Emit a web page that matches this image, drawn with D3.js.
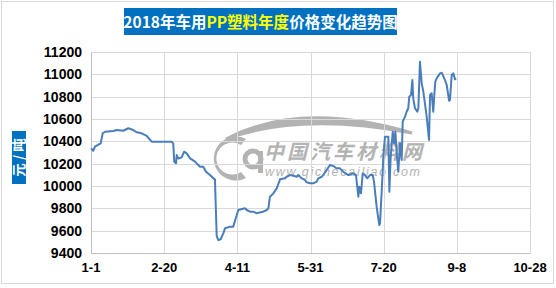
<!DOCTYPE html>
<html><head><meta charset="utf-8">
<script src="https://cdn.jsdelivr.net/npm/d3@7"></script>
<style>html,body{margin:0;padding:0;background:#fff;}svg{display:block;}</style>
</head><body>
<script>
// ---- data ----
const titleParts = [
  {text: "2018年车用", color: "#ffffff"},
  {text: "PP塑料年度", color: "#ffff00"},
  {text: "价格变化趋势图", color: "#ffffff"}
];
const yAxisTitle = "元 / 吨";
const tickDays = [0, 50, 100, 150, 200, 250, 300];
const tickLabels = ["1-1", "2-20", "4-11", "5-31", "7-20", "9-8", "10-28"];
const yTicks = [9400, 9600, 9800, 10000, 10200, 10400, 10600, 10800, 11000, 11200];
// days since 1-1
const days = [0, 1.6, 2.7, 6.6, 8, 9.6, 15.2, 17.6, 22, 25.5, 28.9, 31.2, 34.6, 38.1, 41.5, 42.6,
  55.1, 56.2, 56.9, 58.1, 58.6, 59.7, 62, 63.6, 65.4, 67.7, 71.1, 74.5, 76.7, 78.6, 81.3, 83.6, 84.7,
  85.9, 87, 88.6, 90.4, 91.6, 95, 97.2, 99.6, 100.7, 105.2, 106.4, 108.7, 110.9, 113.3, 114.4, 117.7,
  120.1, 121.2, 122.3, 123.5, 124.6, 126.9, 129.2, 132.6, 133.7, 136, 138.3, 140.6, 141.7, 142.8, 144,
  146.2, 147.4, 149.7, 151.9, 154.2, 155.3, 157.7, 161.1, 163.3, 165.6, 167.9, 170.1, 172.4, 175.8,
  179.3, 181.1, 182.7, 183.4, 184.5, 185.7, 187.2, 188.8, 190.7, 192.5, 193.4, 195.2, 197, 197.5,
  198.7, 199.8, 200.9, 203.2, 203.9, 204.8, 206.2, 207.1, 208, 208.9, 210, 211.2, 212.3, 213, 214.6,
  215.7, 216.8, 217.5, 218.7, 219.6, 220.2, 221.4, 223, 223.7, 224.8, 226, 227.1, 229.4, 231, 231.7,
  232.8, 233.9, 234.6, 235.3, 236.2, 238.5, 239.7, 241.9, 243.1, 244.7, 245.3, 246.5, 247.6, 248.8, 249.4];
const prices = [10337, 10316, 10352, 10382, 10472, 10486, 10492, 10501, 10495, 10517, 10501, 10481, 10472, 10448, 10397, 10397,
  10397, 10382, 10218, 10203, 10277, 10247, 10256, 10307, 10292, 10247, 10218, 10173, 10173, 10128, 10098, 10069, 10060,
  9552, 9516, 9523, 9576, 9621, 9636, 9636, 9740, 9785, 9800, 9785, 9770, 9770, 9755, 9761, 9770,
  9785, 9800, 9904, 9919, 9934, 9979, 10060, 10069, 10083, 10098, 10092, 10083, 10098, 10083, 10069,
  10054, 10033, 10024, 10024, 10039, 10069, 10083, 10143, 10188, 10179, 10158, 10158, 10128, 10098,
  10113, 10098, 9904, 9994, 9934, 10113, 10098, 10069, 10098, 10098, 10039, 9814, 9650, 9665,
  9964, 10262, 10442, 10442, 9949, 10262, 10486, 10382, 10486, 10292, 10128, 10382, 10233, 10576, 10621,
  10665, 10696, 10800, 10815, 10949, 10785, 10696, 10665, 10696, 11113, 10919, 10845, 10621, 10412, 10815,
  10830, 10665, 10815, 10934, 10964, 11009, 11015, 10949, 10904, 10764, 10770, 10994, 11009, 10955, 10964];

// ---- drawing ----
const W = 556, H = 288;
const svg = d3.select("body").append("svg").attr("width", W).attr("height", H);
const m = {left: 91, right: 530, top: 52, bottom: 253};
const x = d3.scaleLinear().domain([0, 300]).range([m.left, m.right]);
const y = d3.scaleLinear().domain([9400, 11200]).range([m.bottom, m.top]);

// outer border
svg.append("rect").attr("x", 1.5).attr("y", 1.5).attr("width", 552).attr("height", 282)
  .attr("fill", "#fff").attr("stroke", "#d9d9d9");

// watermark
const wm = svg.append("g").attr("fill", "#a6a6a6").attr("opacity", 0.85);
wm.append("path").attr("d", "M226,139 Q300,100 412,133 Q300,112 226,139 Z").attr("stroke", "#a6a6a6").attr("stroke-width", 3);
wm.append("path").attr("d", "M246,139 A22,22 0 1 0 246,178 L241,172 A16,16 0 1 1 241,145 Z");
wm.append("circle").attr("cx", 253).attr("cy", 159).attr("r", 8).attr("fill", "none").attr("stroke", "#a6a6a6").attr("stroke-width", 5);
wm.append("rect").attr("x", 258).attr("y", 151).attr("width", 5).attr("height", 22);
wm.append("text").attr("x", 264).attr("y", 159).attr("font-family", "'Noto Sans CJK SC'").attr("font-weight", "bold")
  .attr("font-style", "italic").attr("font-size", 20).attr("textLength", 158).text("中国汽车材料网");
wm.append("text").attr("x", 265).attr("y", 176).attr("font-family", "'Liberation Sans', Arial").attr("font-style", "italic")
  .attr("font-size", 12.5).attr("textLength", 155).text("www.qichecailiao.com");

// gridlines
svg.append("g").selectAll("line").data(yTicks).join("line")
  .attr("x1", m.left).attr("x2", m.right)
  .attr("y1", d => Math.round(y(d)) + 0.5).attr("y2", d => Math.round(y(d)) + 0.5)
  .attr("stroke", "#d9d9d9");
svg.append("g").selectAll("line").data(tickDays).join("line")
  .attr("x1", d => Math.round(x(d)) + 0.5).attr("x2", d => Math.round(x(d)) + 0.5)
  .attr("y1", m.top).attr("y2", m.bottom)
  .attr("stroke", "#d9d9d9");
// axis lines
svg.append("line").attr("x1", m.left + 0.5).attr("x2", m.left + 0.5).attr("y1", m.top).attr("y2", m.bottom + 0.5).attr("stroke", "#bfbfbf");
svg.append("line").attr("x1", m.left).attr("x2", m.right + 0.5).attr("y1", m.bottom + 0.5).attr("y2", m.bottom + 0.5).attr("stroke", "#bfbfbf");

// y tick labels
svg.append("g").selectAll("text").data(yTicks).join("text")
  .attr("x", 82).attr("y", d => y(d)).attr("dy", "0.36em").attr("text-anchor", "end")
  .attr("font-family", "'Liberation Sans', Arial").attr("font-weight", "bold").attr("font-size", 14)
  .attr("fill", "#000").text(d => d);
// x tick labels
svg.append("g").selectAll("text").data(tickDays).join("text")
  .attr("x", d => x(d)).attr("y", 271.5).attr("text-anchor", "middle")
  .attr("font-family", "'Liberation Sans', Arial").attr("font-weight", "bold").attr("font-size", 13)
  .attr("fill", "#000").text((d, i) => tickLabels[i]);

// line
const pts = days.map((d, i) => [d, prices[i]]);
svg.append("path").datum(pts)
  .attr("d", d3.line().x(d => x(d[0])).y(d => y(d[1])))
  .attr("fill", "none").attr("stroke", "#4a7ebb").attr("stroke-width", 2).attr("stroke-linejoin", "round");

// title
svg.append("rect").attr("x", 124).attr("y", 8).attr("width", 273).attr("height", 27).attr("fill", "#0070c0");
const tt = svg.append("text").attr("x", 260.5).attr("y", 27.5).attr("text-anchor", "middle")
  .attr("font-family", "'Noto Sans CJK SC'").attr("font-weight", "bold").attr("font-size", 15.5);
titleParts.forEach(p => tt.append("tspan").attr("fill", p.color).text(p.text));

// y axis title
svg.append("rect").attr("x", 12).attr("y", 131).attr("width", 14).attr("height", 53).attr("fill", "#0070c0");
svg.append("text").attr("transform", "translate(23.5,157.5) rotate(-90)").attr("text-anchor", "middle")
  .attr("font-family", "'Noto Sans CJK SC'").attr("font-weight", "bold").attr("font-size", 13.5)
  .attr("fill", "#fff").text(yAxisTitle);
</script>
</body></html>
